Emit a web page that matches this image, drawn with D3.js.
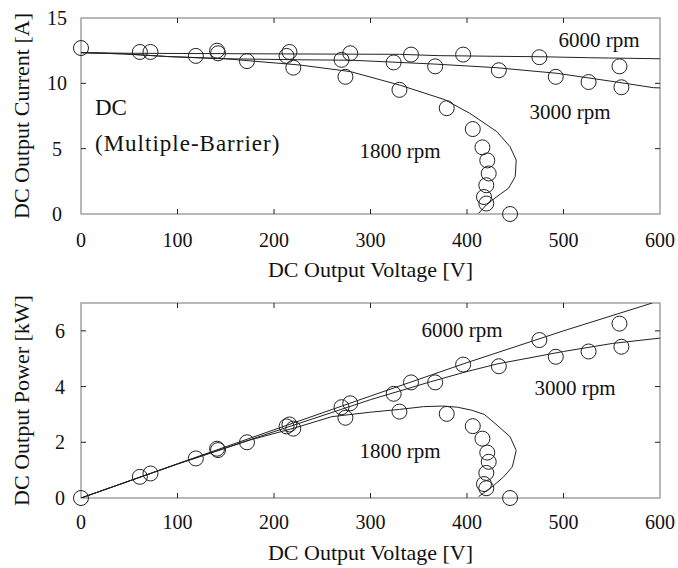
<!DOCTYPE html>
<html><head><meta charset="utf-8">
<script src="https://cdn.jsdelivr.net/npm/d3@7"></script>
<style>
body{margin:0;background:#fff;}
svg text{font-family:"Liberation Serif","Times New Roman",serif;fill:#111;}
</style></head>
<body><svg id="chart" width="678" height="568"></svg>
<script>
// ---------- data ----------
const seriesNames = ["6000 rpm", "3000 rpm", "1800 rpm"];
const xTicks = [0, 100, 200, 300, 400, 500, 600];
const currentTicks = [0, 5, 10, 15];
const powerTicks = [0, 2, 4, 6];

// measured points (voltage V, current A, power kW)
const v6000 = [0, 72, 141, 216, 279, 342, 396, 475, 558];
const i6000 = [12.7, 12.4, 12.5, 12.4, 12.3, 12.2, 12.2, 12.0, 11.3];
const p6000 = [0, 0.88, 1.77, 2.64, 3.40, 4.15, 4.79, 5.67, 6.26];

const v3000 = [61, 142, 213, 270, 324, 367, 433, 492, 526, 560];
const i3000 = [12.4, 12.3, 12.1, 11.8, 11.6, 11.3, 11.0, 10.5, 10.1, 9.7];
const p3000 = [0.76, 1.72, 2.57, 3.26, 3.74, 4.15, 4.73, 5.07, 5.26, 5.43];

const v1800 = [119, 172, 220, 274, 330, 379, 406, 416, 421, 422.5, 420, 417.6, 420, 444.6];
const i1800 = [12.1, 11.7, 11.2, 10.5, 9.5, 8.1, 6.5, 5.1, 4.1, 3.1, 2.2, 1.3, 0.8, 0];
const p1800 = [1.42, 2.0, 2.49, 2.88, 3.10, 3.02, 2.58, 2.13, 1.63, 1.30, 0.90, 0.5, 0.35, 0];

// calculated curves
const curveI6000 = [[0,12.35],[50,12.3],[150,12.27],[250,12.24],[330,12.22],[370,12.12],[430,12.07],[480,12.03],[527,11.96],[600,11.88]];
const curveI3000 = [[0,12.35],[45,12.25],[90,12.05],[150,11.88],[230,11.8],[280,11.77],[365,11.48],[430,11.2],[493,10.77],[555,10.1],[593,9.67],[600,9.65]];
const curveI1800 = [[0,12.35],[45,12.25],[90,12.05],[150,11.88],[175,11.72],[227,11.4],[279,10.9],[331,9.85],[377,8.75],[403,7.7],[431,6.3],[444.6,5.15],[451,4.13],[450,2.86],[443,1.97],[431,1.33],[420,0.69],[412,0.05]];

const curveP6000 = [[0,0],[100,1.23],[200,2.45],[300,3.66],[400,4.86],[500,6.0],[592,7.0]];
const curveP3000 = [[0,0],[100,1.22],[200,2.38],[300,3.53],[362,4.17],[400,4.54],[431,4.81],[500,5.26],[551,5.55],[600,5.74]];
const curveP1800 = [[0,0],[100,1.22],[175,2.08],[220,2.5],[260,2.92],[300,3.08],[330,3.18],[355,3.28],[375,3.3],[390,3.26],[405,3.15],[418,3.0],[430,2.65],[444.6,2.2],[451,1.71],[447,1.12],[438,0.76],[427,0.43],[412,0.05]];

// ---------- drawing ----------
const svg = d3.select("#chart");
const frameColor = "#8a8a8a";
const inkColor = "#222";

function panel(opts) {
  const x = d3.scaleLinear().domain([0, 600]).range([81, 660]);
  const y = d3.scaleLinear().domain(opts.yDomain).range(opts.yRange);
  const g = svg.append("g");
  const [x0, x1] = x.range();
  const [y0, y1] = y.range(); // y0 bottom, y1 top

  g.append("rect").attr("x", x0).attr("y", y1).attr("width", x1 - x0).attr("height", y0 - y1)
    .attr("fill", "none").attr("stroke", frameColor).attr("stroke-width", 1.2);

  const tl = 5;
  const xInner = xTicks.slice(1, -1);
  g.selectAll(null).data(xInner).join("line")
    .attr("x1", d => x(d)).attr("x2", d => x(d)).attr("y1", y0).attr("y2", y0 - tl)
    .attr("stroke", inkColor).attr("stroke-width", 1);
  g.selectAll(null).data(xInner).join("line")
    .attr("x1", d => x(d)).attr("x2", d => x(d)).attr("y1", y1).attr("y2", y1 + tl)
    .attr("stroke", inkColor).attr("stroke-width", 1);
  const yInner = opts.yTicks.filter(d => y(d) < y0 - 1 && y(d) > y1 + 1);
  g.selectAll(null).data(yInner).join("line")
    .attr("x1", x0).attr("x2", x0 + tl).attr("y1", d => y(d)).attr("y2", d => y(d))
    .attr("stroke", inkColor).attr("stroke-width", 1);
  g.selectAll(null).data(yInner).join("line")
    .attr("x1", x1).attr("x2", x1 - tl).attr("y1", d => y(d)).attr("y2", d => y(d))
    .attr("stroke", inkColor).attr("stroke-width", 1);

  g.selectAll(null).data(xTicks).join("text")
    .attr("x", d => x(d)).attr("y", opts.xLabelY).attr("text-anchor", "middle")
    .attr("font-size", 20).text(d => d);
  g.selectAll(null).data(opts.yTicks).join("text")
    .attr("x", opts.yLabelX).attr("y", d => y(d) + 7).attr("text-anchor", "middle")
    .attr("font-size", 20).text(d => d);

  g.append("text").attr("x", (x0 + x1) / 2).attr("y", opts.xTitleY).attr("text-anchor", "middle")
    .attr("font-size", 22).text("DC Output Voltage [V]");
  g.append("text").attr("transform", `translate(29,${(y0 + y1) / 2}) rotate(-90)`)
    .attr("text-anchor", "middle").attr("font-size", 22).text(opts.yTitle);

  const line = d3.line().x(d => x(d[0])).y(d => y(d[1]));
  const clipId = "clip" + opts.id;
  svg.append("clipPath").attr("id", clipId).append("rect")
    .attr("x", x0).attr("y", y1).attr("width", x1 - x0).attr("height", y0 - y1);
  opts.curves.forEach(c => {
    g.append("path").attr("d", line(c)).attr("fill", "none")
      .attr("stroke", inkColor).attr("stroke-width", 1).attr("clip-path", `url(#${clipId})`);
  });

  opts.points.forEach(([vs, ys]) => {
    g.selectAll(null).data(vs.map((v, i) => [v, ys[i]])).join("circle")
      .attr("cx", d => x(d[0])).attr("cy", d => y(d[1])).attr("r", 7.5)
      .attr("fill", "none").attr("stroke", inkColor).attr("stroke-width", 1);
  });

  opts.labels.forEach(l => {
    g.append("text").attr("x", l[0]).attr("y", l[1]).attr("text-anchor", "middle")
      .attr("font-size", 21).text(l[2]);
  });
  return g;
}

const topPanel = panel({
  id: "top", yDomain: [0, 15], yRange: [214, 18], yTicks: currentTicks,
  xLabelY: 247, yLabelX: 57, xTitleY: 277, yTitle: "DC Output Current [A]",
  curves: [curveI6000, curveI3000, curveI1800],
  points: [[v6000, i6000], [v3000, i3000], [v1800, i1800]],
  labels: [[599, 47, seriesNames[0]], [570, 119, seriesNames[1]], [400, 158, seriesNames[2]]]
});
topPanel.append("text").attr("x", 95).attr("y", 115).attr("font-size", 23).text("DC");
topPanel.append("text").attr("x", 95).attr("y", 151).attr("font-size", 23)
  .attr("letter-spacing", 1).text("(Multiple-Barrier)");

panel({
  id: "bot", yDomain: [0, 7], yRange: [498, 303], yTicks: powerTicks,
  xLabelY: 529, yLabelX: 60, xTitleY: 560, yTitle: "DC Output Power [kW]",
  curves: [curveP6000, curveP3000, curveP1800],
  points: [[v6000, p6000], [v3000, p3000], [v1800, p1800]],
  labels: [[462, 337, seriesNames[0]], [575, 395, seriesNames[1]], [400, 458, seriesNames[2]]]
});
</script></body></html>
